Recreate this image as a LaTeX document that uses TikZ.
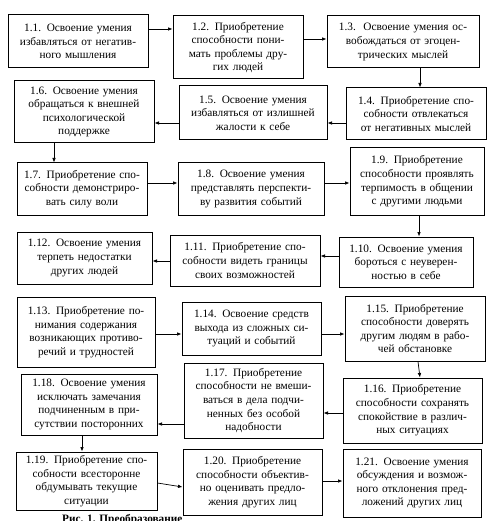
\documentclass[tikz,border=0pt]{standalone}
\usepackage{fontspec}
\setmainfont{Liberation Serif}
\usetikzlibrary{arrows.meta}
\begin{document}
\begin{tikzpicture}[x=1pt,y=-1pt,
  box/.style={draw=black, line width=1pt, inner sep=0pt, align=center,
    font=\fontsize{11.3}{13.6}\selectfont},
  arr/.style={line width=0.7pt, -{Latex[length=4.5pt,width=3.6pt]}}]
\useasboundingbox[fill=white] (0,0) rectangle (489,521);
% row 1
\node[box, text width=140pt, minimum height=53pt] (n11) at (78,41.5) {1.1. Освоение умения\\избавляться от негатив-\\ного мышления};
\node[box, text width=130pt, minimum height=63pt] (n12) at (238,47.5) {1.2. Приобретение\\способности пони-\\мать проблемы дру-\\гих людей};
\node[box, text width=152pt, minimum height=52pt] (n13) at (403,42) {1.3.~~Освоение умения ос-\\вобождаться от эгоцен-\\трических мыслей};
% row 2
\node[box, text width=140pt, minimum height=52pt] (n14) at (416,114) {1.4. Приобретение спо-\\собности отвлекаться\\от негативных мыслей};
\node[box, text width=148pt, minimum height=54pt] (n15) at (253,113) {1.5. Освоение умения\\избавляться от излишней\\жалости к себе};
\node[box, text width=140pt, minimum height=62pt] (n16) at (84,112) {1.6. Освоение умения\\обращаться к внешней\\психологической\\поддержке};
% row 3
\node[box, text width=130pt, minimum height=52pt] (n17) at (82,189) {1.7. Приобретение спо-\\собности демонстриро-\\вать силу воли};
\node[box, text width=146pt, minimum height=52pt] (n18) at (251,189) {1.8. Освоение умения\\представлять перспекти-\\ву развития событий};
\node[box, text width=134pt, minimum height=67pt] (n19) at (417,181.5) {1.9. Приобретение\\способности проявлять\\терпимость в общении\\с другими людьми};
% row 4
\node[box, text width=134pt, minimum height=50pt] (n110) at (406,262) {1.10. Освоение умения\\бороться с неуверен-\\ностью в себе};
\node[box, text width=150pt, minimum height=51pt] (n111) at (245,260.5) {1.11. Приобретение спо-\\собности видеть границы\\своих возможностей};
\node[box, text width=135pt, minimum height=52pt] (n112) at (84.5,258) {1.12. Освоение умения\\терпеть недостатки\\других людей};
% row 5
\node[box, text width=138pt, minimum height=70pt] (n113) at (86,332) {1.13. Приобретение по-\\нимания содержания\\возникающих противо-\\речий и трудностей};
\node[box, text width=139pt, minimum height=53pt] (n114) at (251.5,328.5) {1.14. Освоение средств\\выхода из сложных си-\\туаций и событий};
\node[box, text width=140pt, minimum height=65pt] (n115) at (415,328.5) {1.15. Приобретение\\способности доверять\\другим людям в рабо-\\чей обстановке};
% row 6
\node[box, text width=139pt, minimum height=65pt] (n116) at (412.5,410.5) {1.16. Приобретение\\способности сохранять\\спокойствие в различ-\\ных ситуациях};
\node[box, text width=139pt, minimum height=75pt] (n117) at (253.5,400.5) {1.17. Приобретение\\способности не вмеши-\\ваться в дела подчи-\\ненных без особой\\надобности};
\node[box, text width=136pt, minimum height=61pt] (n118) at (89,404.5) {1.18. Освоение умения\\исключать замечания\\подчиненным в при-\\сутствии посторонних};
% row 7
\node[box, text width=141pt, minimum height=58pt] (n119) at (86.5,481) {1.19. Приобретение спо-\\собности всесторонне\\обдумывать текущие\\ситуации};
\node[box, text width=139pt, minimum height=66pt] (n120) at (252.5,482) {1.20. Приобретение\\способности объектив-\\но оценивать предло-\\жения других лиц};
\node[box, text width=138pt, minimum height=68pt] (n121) at (412,483) {1.21. Освоение умения\\обсуждения и возмож-\\ного отклонения пред-\\ложений других лиц};
% caption (cut off by the page edge)
\node[anchor=north west, inner sep=0pt, font=\bfseries\fontsize{11.3}{13.6}\selectfont] (cap) at (62,514.5) {Рис. 1. Преобразование};
% connectors
\draw[arr] (n11.east |- 0,29) -- (n12.west |- 0,29);
\draw[arr] (n12.east |- 0,39) -- (n13.west |- 0,39);
\draw[arr] (n13.south -| 420,0) -- (n14.north -| 420,0);
\draw[arr] (n14.west |- 0,123) -- (n15.east |- 0,123);
\draw[arr] (n15.west |- 0,123) -- (n16.east |- 0,123);
\draw[arr] (n16.south -| 54,0) -- (n17.north -| 54,0);
\draw[arr] (n17.east |- 0,183) -- (n18.west |- 0,183);
\draw[arr] (n18.east |- 0,183) -- (n19.west |- 0,183);
\draw[arr] (n19.south -| 419,0) -- (n110.north -| 419,0);
\draw[arr] (n110.west |- 0,256) -- (n111.east |- 0,256);
\draw[arr] (n111.west |- 0,261) -- (n112.east |- 0,261);
\draw[arr] (n113.east |- 0,334) -- (n114.west |- 0,334);
\draw[arr] (n114.east |- 0,334) -- (n115.west |- 0,334);
\draw[arr] (n115.south -| 418,0) -- (n116.north -| 420,0);
\draw[arr] (n116.west |- 0,413) -- (n117.east |- 0,413);
\draw[arr] (n117.west |- 0,424) -- (n118.east |- 0,424);
\draw[arr] (n118.south -| 82,0) -- (n119.north -| 82,0);
\draw[arr] (n119.east |- 0,483) -- (n120.west |- 0,487);
\draw[arr] (n120.east |- 0,481) -- (n121.west |- 0,481);
\end{tikzpicture}
\end{document}
